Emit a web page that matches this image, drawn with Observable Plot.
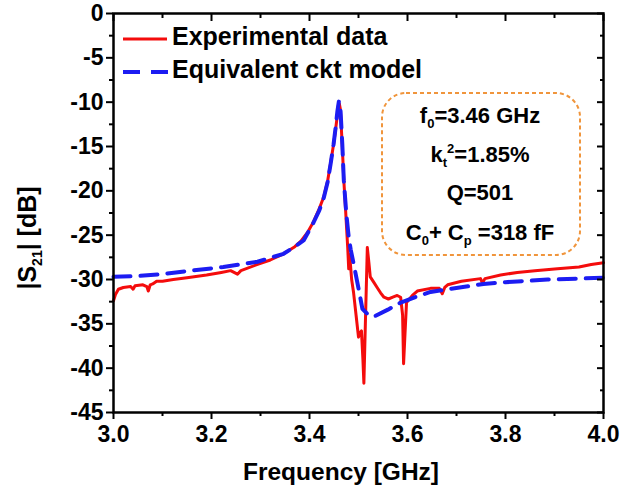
<!DOCTYPE html>
<html><head><meta charset="utf-8">
<script src="https://cdn.jsdelivr.net/npm/d3@7"></script>
<script src="https://cdn.jsdelivr.net/npm/@observablehq/plot@0.6"></script>
<style>
body{margin:0;background:#fff;}
#chart svg{display:block;}
</style></head><body><div id="chart"></div>
<script>
// ---- data ----
const expFreq = [3.000,3.004,3.010,3.020,3.035,3.040,3.044,3.060,3.068,3.071,3.075,3.080,3.088,3.100,3.122,3.150,3.190,3.220,3.239,3.246,3.253,3.260,3.294,3.320,3.347,3.370,3.382,3.396,3.408,3.420,3.429,3.437,3.443,3.449,3.453,3.457,3.459,3.461,3.463,3.467,3.470,3.473,3.476,3.478,3.480,3.482,3.486,3.490,3.495,3.500,3.503,3.506,3.509,3.511,3.514,3.518,3.521,3.524,3.531,3.538,3.545,3.552,3.561,3.570,3.579,3.586,3.590,3.592,3.595,3.598,3.601,3.610,3.620,3.647,3.665,3.671,3.676,3.682,3.710,3.749,3.753,3.758,3.790,3.824,3.860,3.906,3.950,3.975,4.000];
const expS21 = [-32.4,-31.7,-31.1,-30.9,-30.8,-31.1,-30.7,-30.6,-30.8,-31.3,-30.6,-30.5,-30.2,-30.2,-30.0,-29.8,-29.5,-29.2,-29.0,-29.2,-29.4,-29.0,-28.3,-27.8,-27.1,-26.3,-25.7,-24.7,-23.5,-22.0,-20.7,-18.9,-16.9,-14.8,-13.2,-11.4,-10.3,-10.2,-10.8,-15.1,-18.8,-21.5,-24.5,-26.4,-28.8,-27.2,-30.0,-31.5,-34.0,-36.5,-36.0,-35.8,-39.0,-41.7,-35.0,-26.4,-28.0,-29.7,-30.3,-30.9,-31.5,-32.0,-32.2,-32.0,-31.8,-32.0,-34.0,-39.5,-36.0,-32.6,-32.4,-31.8,-31.3,-31.0,-31.0,-31.6,-30.9,-30.6,-30.2,-29.9,-30.4,-29.9,-29.5,-29.2,-29.0,-28.8,-28.6,-28.3,-28.1];
const modelFreq = [3.000,3.050,3.100,3.157,3.224,3.294,3.347,3.370,3.388,3.408,3.420,3.429,3.437,3.443,3.449,3.453,3.457,3.460,3.463,3.467,3.470,3.475,3.480,3.484,3.490,3.500,3.508,3.520,3.531,3.560,3.586,3.620,3.647,3.682,3.720,3.755,3.800,3.886,3.950,4.000];
const modelS21 = [-29.7,-29.6,-29.4,-29.0,-28.6,-28.0,-27.1,-26.3,-25.6,-23.6,-22.2,-20.8,-19.0,-17.0,-14.8,-13.0,-11.0,-9.9,-10.6,-14.8,-18.8,-22.5,-25.2,-26.6,-28.2,-31.0,-33.3,-34.0,-34.2,-33.4,-32.6,-31.9,-31.4,-31.1,-30.8,-30.5,-30.3,-30.0,-29.9,-29.8];
const xMajorTicks = [3.0,3.2,3.4,3.6,3.8,4.0];
const xMinorTicks = [3.1,3.3,3.5,3.7,3.9];
const yMajorTicks = [0,-5,-10,-15,-20,-25,-30,-35,-40,-45];
const yMinorTicks = [-2.5,-7.5,-12.5,-17.5,-22.5,-27.5,-32.5,-37.5,-42.5];
const seriesNames = ["Experimental data","Equivalent ckt model"];
const xLabel = "Frequency [GHz]";

const expData = expFreq.map((f,i)=>({f, s: expS21[i]}));
const modelData = modelFreq.map((f,i)=>({f, s: modelS21[i]}));

const FONT = "Arial, 'Liberation Sans', Helvetica, sans-serif";
const RED = "#f40c0c", BLUE = "#1c1cf2", ORANGE = "#f0953c";

const chart = Plot.plot({
  width: 637, height: 498,
  marginLeft: 113, marginRight: 34, marginTop: 13, marginBottom: 86,
  style: {fontFamily: FONT, fontWeight: "bold", background: "white", color: "black", overflow: "visible"},
  x: {domain: [3, 4]},
  y: {domain: [-45, 0]},
  marks: [
    Plot.line(expData, {x: "f", y: "s", stroke: RED, strokeWidth: 3, strokeLinejoin: "round"}),
    Plot.line(modelData, {x: "f", y: "s", stroke: BLUE, strokeWidth: 4, strokeDasharray: "17,10"}),
    Plot.frame({stroke: "black", strokeWidth: 2.5}),
    Plot.axisX(xMajorTicks, {anchor: "bottom", tickSize: 7, tickPadding: 6, strokeWidth: 2, fontSize: 23, tickFormat: d3.format(".1f"), label: null}),
    Plot.axisX(xMinorTicks, {anchor: "bottom", tickSize: 4, strokeWidth: 2, fill: "none", label: null}),
    Plot.axisX(xMajorTicks, {anchor: "top", tickSize: 7, dy: 7, strokeWidth: 2, fill: "none", label: null}),
    Plot.axisX(xMinorTicks, {anchor: "top", tickSize: 4, dy: 4, strokeWidth: 2, fill: "none", label: null}),
    Plot.axisY(yMajorTicks, {anchor: "left", tickSize: 7, tickPadding: 3, strokeWidth: 2, fontSize: 23, tickFormat: d => String(d), label: null}),
    Plot.axisY(yMinorTicks, {anchor: "left", tickSize: 4, strokeWidth: 2, fill: "none", label: null}),
    Plot.axisY(yMajorTicks, {anchor: "right", tickSize: 7, dx: -7, strokeWidth: 2, fill: "none", label: null}),
    Plot.axisY(yMinorTicks, {anchor: "right", tickSize: 4, dx: -4, strokeWidth: 2, fill: "none", label: null})
  ]
});
document.getElementById("chart").appendChild(chart);

const svg = d3.select(chart);
const g = svg.append("g").attr("font-family", FONT).attr("font-weight", "bold").attr("fill", "black").attr("text-anchor", "start");

// axis titles
g.append("text").attr("x", 341).attr("y", 480).attr("text-anchor", "middle").attr("font-size", 24.5).text(xLabel);
const yl = g.append("text").attr("transform", "translate(36,238) rotate(-90)").attr("text-anchor", "middle").attr("font-size", 25);
yl.append("tspan").text("|S");
yl.append("tspan").attr("font-size", 14).attr("dy", 6).text("21");
yl.append("tspan").attr("dy", -6).text("| [dB]");

// legend
g.append("line").attr("x1", 123).attr("x2", 167).attr("y1", 39).attr("y2", 39).attr("stroke", RED).attr("stroke-width", 3);
g.append("text").attr("x", 172).attr("y", 45).attr("text-anchor", "start").attr("font-size", 25).text(seriesNames[0]);
g.append("line").attr("x1", 123).attr("x2", 168).attr("y1", 72).attr("y2", 72).attr("stroke", BLUE).attr("stroke-width", 4).attr("stroke-dasharray", "17,11");
g.append("text").attr("x", 172).attr("y", 78).attr("text-anchor", "start").attr("font-size", 25).text(seriesNames[1]);

// annotation box
g.append("rect").attr("x", 382).attr("y", 93).attr("width", 198).attr("height", 162).attr("rx", 24)
  .attr("fill", "none").attr("stroke", ORANGE).attr("stroke-width", 2).attr("stroke-dasharray", "4,3");
const cx = 480, fs = 22, sub = 13;
const t1 = g.append("text").attr("x", cx).attr("y", 123).attr("text-anchor", "middle").attr("font-size", fs);
t1.append("tspan").text("f"); t1.append("tspan").attr("font-size", sub).attr("dy", 5).text("0"); t1.append("tspan").attr("dy", -5).text("=3.46 GHz");
const t2 = g.append("text").attr("x", cx).attr("y", 162).attr("text-anchor", "middle").attr("font-size", fs);
t2.append("tspan").text("k"); t2.append("tspan").attr("font-size", sub).attr("dy", 5).text("t");
t2.append("tspan").attr("font-size", sub).attr("dy", -14).text("2"); t2.append("tspan").attr("dy", 9).text("=1.85%");
g.append("text").attr("x", cx).attr("y", 200).attr("text-anchor", "middle").attr("font-size", fs).text("Q=501");
const t4 = g.append("text").attr("x", cx).attr("y", 240).attr("text-anchor", "middle").attr("font-size", fs);
t4.append("tspan").text("C"); t4.append("tspan").attr("font-size", sub).attr("dy", 5).text("0");
t4.append("tspan").attr("dy", -5).text("+ C"); t4.append("tspan").attr("font-size", sub).attr("dy", 5).text("p");
t4.append("tspan").attr("dy", -5).text(" =318 fF");
</script></body></html>
